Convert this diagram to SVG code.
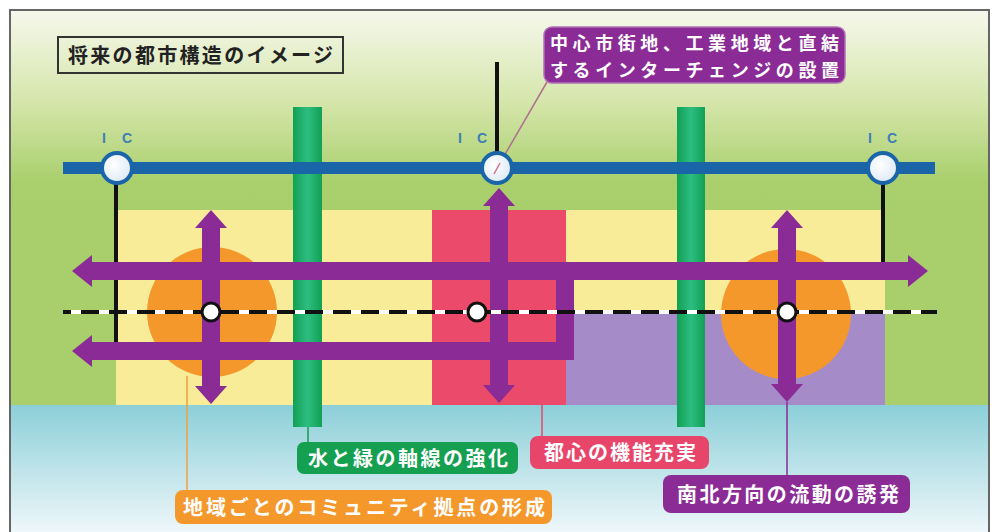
<svg xmlns="http://www.w3.org/2000/svg" width="997" height="532" viewBox="0 0 997 532">
<defs>
<linearGradient id="gTop" x1="0" y1="10" x2="0" y2="210" gradientUnits="userSpaceOnUse">
<stop offset="0" stop-color="#f6f8ec"/>
<stop offset="0.45" stop-color="#d6e6ac"/>
<stop offset="0.85" stop-color="#aad06e"/>
<stop offset="1" stop-color="#a8cf6b"/>
</linearGradient>
<linearGradient id="gBot" x1="0" y1="405" x2="0" y2="532" gradientUnits="userSpaceOnUse">
<stop offset="0" stop-color="#8ccfd8"/>
<stop offset="1" stop-color="#eef7fa"/>
</linearGradient>
<linearGradient id="gBar" x1="0" y1="0" x2="1" y2="0">
<stop offset="0" stop-color="#12a055"/>
<stop offset="0.5" stop-color="#2dbd80"/>
<stop offset="1" stop-color="#12a055"/>
</linearGradient>
<radialGradient id="gIC" cx="0.4" cy="0.4" r="0.7">
<stop offset="0" stop-color="#ffffff"/>
<stop offset="1" stop-color="#d8e6f4"/>
</radialGradient>
<style>
.lbl{font-family:"Noto Sans CJK JP","Noto Sans",sans-serif;font-weight:bold;font-size:20px;fill:#ffffff}
.lbl2{font-family:"Noto Sans CJK JP","Noto Sans",sans-serif;font-weight:bold;font-size:18px;fill:#ffffff}
.ttl{font-family:"Noto Sans CJK JP","Noto Sans",sans-serif;font-weight:bold;font-size:20px;fill:#222222}
.ic{font-family:"Liberation Sans",sans-serif;font-weight:bold;font-size:14px;fill:#3d7fb5}
.arrow{fill:#8b2b96}
.ring{fill:url(#gIC);stroke:#1a64a8;stroke-width:4}
.sta{fill:#ffffff;stroke:#111111;stroke-width:3}
.lead{fill:none;stroke-width:1.5}
.bar{fill:url(#gBar)}
</style>
</defs>
<rect x="0" y="0" width="997" height="532" fill="#ffffff"/>
<g id="background">
<rect x="10" y="10" width="979" height="200" fill="url(#gTop)"/>
<rect x="10" y="210" width="979" height="195" fill="#a9cf6c"/>
<rect x="10" y="405" width="979" height="127" fill="url(#gBot)"/>
<rect x="116" y="210" width="316" height="195" fill="#f8ec98"/>
<rect x="566" y="210" width="319" height="102" fill="#f8ec98"/>
<rect x="566" y="312" width="319" height="93" fill="#a58cc8"/>
<rect x="432" y="210" width="134" height="195" fill="#ec4a6a"/>
<circle cx="212" cy="312" r="65" fill="#f5982c"/>
<circle cx="786" cy="314" r="65" fill="#f5982c"/>
<rect x="10" y="10" width="979" height="530" fill="none" stroke="#666666" stroke-width="2"/>
</g>
<g id="green-axes">
<rect class="bar" x="293" y="107" width="29" height="320"/>
<rect class="bar" x="677" y="107" width="28" height="320"/>
</g>
<g id="connectors">
<line x1="63" y1="168" x2="935" y2="168" stroke="#1a64a8" stroke-width="12"/>
<line x1="497" y1="62" x2="497" y2="155" stroke="#111111" stroke-width="4"/>
<line x1="116" y1="180" x2="116" y2="344" stroke="#111111" stroke-width="4"/>
<line x1="883" y1="180" x2="883" y2="272" stroke="#111111" stroke-width="4"/>
<path class="arrow" d="M72,271 L92,255 L92,262 L908,262 L908,255 L928,271 L908,287 L908,280 L92,280 L92,287 Z"/>
<path class="arrow" d="M72,351 L92,335 L92,342 L556,342 L556,275 L574,275 L574,360 L92,360 L92,367 Z"/>
<path class="arrow" d="M211,210 L227,228 L220,228 L220,386 L227,386 L211,404 L195,386 L202,386 L202,228 L195,228 Z"/>
<path class="arrow" d="M499,188 L515,206 L508,206 L508,385 L515,385 L499,403 L483,385 L490,385 L490,206 L483,206 Z"/>
<path class="arrow" d="M787,210 L803,228 L796,228 L796,384 L803,384 L787,402 L771,384 L778,384 L778,228 L771,228 Z"/>
<line x1="63" y1="312" x2="937" y2="312" stroke="#ffffff" stroke-width="4"/>
<line x1="63" y1="312" x2="937" y2="312" stroke="#111111" stroke-width="4" stroke-dasharray="18 10" stroke-dashoffset="-18"/>
<line class="lead" x1="547" y1="82" x2="500" y2="163" stroke="#b07090"/>
<line class="lead" x1="308" y1="427" x2="308" y2="443" stroke="#1a9a50"/>
<line class="lead" x1="542" y1="405" x2="542" y2="437" stroke="#e8456a"/>
<line class="lead" x1="787" y1="402" x2="787" y2="476" stroke="#8b2b96"/>
<line class="lead" x1="187" y1="376" x2="187" y2="491" stroke="#f0a040"/>
</g>
<g id="stations">
<circle class="sta" cx="211" cy="312" r="9"/>
<circle class="sta" cx="477" cy="312" r="9"/>
<circle class="sta" cx="787" cy="312" r="9"/>
</g>
<g id="ic-left">
<circle class="ring" cx="117" cy="168" r="15"/>
<text class="ic" x="102" y="143">I</text><text class="ic" x="122" y="143">C</text>
</g>
<g id="ic-center">
<circle class="ring" cx="497" cy="168" r="15"/>
<line x1="500" y1="163" x2="494" y2="174" stroke="#d07090" stroke-width="1.5"/>
<text class="ic" x="458" y="143">I</text><text class="ic" x="477" y="143">C</text>
</g>
<g id="ic-right">
<circle class="ring" cx="883" cy="168" r="15"/>
<text class="ic" x="868" y="143">I</text><text class="ic" x="887" y="143">C</text>
</g>
<g id="title">
<rect x="58" y="37" width="285" height="36" fill="none" stroke="#333333" stroke-width="2"/>
<text class="ttl" x="68" y="63" textLength="265" lengthAdjust="spacing">将来の都市構造のイメージ</text>
</g>
<g id="callout-ic">
<rect x="544" y="27" width="301" height="56" rx="8" fill="#8b2b96" stroke="#b070b8" stroke-width="1.5"/>
<text class="lbl2" x="550" y="50" textLength="289" lengthAdjust="spacing">中心市街地、工業地域と直結</text>
<text class="lbl2" x="550" y="77" textLength="289" lengthAdjust="spacing">するインターチェンジの設置</text>
</g>
<g id="label-green">
<rect x="297" y="442" width="221" height="32" rx="7" fill="#14a050"/>
<text class="lbl" x="308" y="466" textLength="200" lengthAdjust="spacing">水と緑の軸線の強化</text>
</g>
<g id="label-pink">
<rect x="530" y="436" width="179" height="33" rx="8" fill="#e8456a"/>
<text class="lbl" x="544" y="460" textLength="152" lengthAdjust="spacing">都心の機能充実</text>
</g>
<g id="label-purple">
<rect x="663" y="475" width="247" height="38" rx="8" fill="#8b2b96"/>
<text class="lbl" x="677" y="502" textLength="222" lengthAdjust="spacing">南北方向の流動の誘発</text>
</g>
<g id="label-orange">
<rect x="175" y="490" width="377" height="34" rx="8" fill="#f5982c"/>
<text class="lbl" x="183" y="515" textLength="362" lengthAdjust="spacing">地域ごとのコミュニティ拠点の形成</text>
</g>
</svg>
